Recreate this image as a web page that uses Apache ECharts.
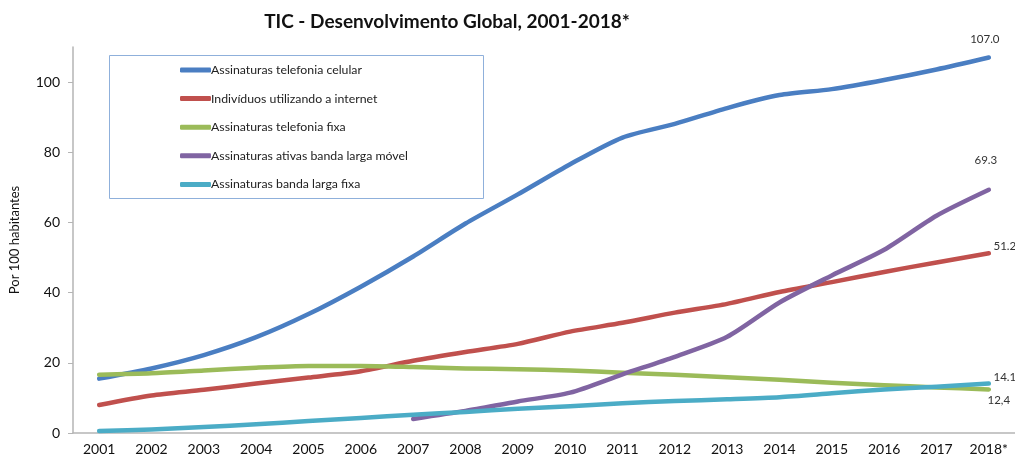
<!DOCTYPE html>
<html>
<head>
<meta charset="utf-8">
<script src="https://cdn.jsdelivr.net/npm/echarts@6/dist/echarts.min.js"></script>
<style>
  html, body { margin: 0; padding: 0; background: #fff; }
  #chart { width: 1015px; height: 457px; }
</style>
</head>
<body>
<div id="chart"></div>
<script>
// anos
const anos = ['2001', '2002', '2003', '2004', '2005', '2006', '2007', '2008', '2009',
    '2010', '2011', '2012', '2013', '2014', '2015', '2016', '2017', '2018*'];

// séries (por 100 habitantes)
const celular = [15.5, 18.4, 22.2, 27.3, 33.9, 41.7, 50.3, 59.7, 68.0, 76.6, 84.2, 88.1, 92.6, 96.3, 98.0, 100.6, 103.6, 107.0];
const internet = [8.0, 10.7, 12.3, 14.1, 15.8, 17.6, 20.6, 23.1, 25.4, 28.9, 31.4, 34.3, 36.8, 40.2, 43.0, 45.9, 48.6, 51.2];
const fixa = [16.6, 17.0, 17.8, 18.6, 19.1, 19.1, 18.8, 18.4, 18.2, 17.8, 17.2, 16.6, 15.9, 15.2, 14.3, 13.6, 13.0, 12.4];
const movel = [null, null, null, null, null, null, 4.0, 6.3, 9.0, 11.5, 16.7, 21.7, 27.4, 37.2, 44.9, 52.2, 61.9, 69.3];
const bandaFixa = [0.6, 1.0, 1.7, 2.5, 3.4, 4.3, 5.2, 6.0, 6.9, 7.6, 8.5, 9.1, 9.6, 10.2, 11.3, 12.4, 13.2, 14.1];

const nomes = ['Assinaturas telefonia celular', 'Indivíduos utilizando a internet',
    'Assinaturas telefonia fixa', 'Assinaturas ativas banda larga móvel', 'Assinaturas banda larga fixa'];
const cores = ['#4A7EC2', '#C0504D', '#9BBB59', '#8064A2', '#4BACC6'];

const yTicks = [0, 20, 40, 60, 80, 100];

// deslocamento do rótulo final de cada série, e separador decimal
const rotulos = [
    { offset: [-4, -24], decimal: '.' },
    { offset: [16, -13], decimal: '.' },
    { offset: [10, 5], decimal: ',' },
    { offset: [-3, -36], decimal: '.' },
    { offset: [16, -12], decimal: '.' }
];

const chart = echarts.init(document.getElementById('chart'));

chart.setOption({
    animation: false,
    textStyle: { fontFamily: 'Lato' },
    title: {
        text: 'TIC - Desenvolvimento Global, 2001-2018*',
        left: 442,
        top: 7,
        textAlign: 'center',
        textStyle: { fontFamily: 'Lato', fontWeight: 'bold', fontSize: 19, color: '#111' }
    },
    graphic: [{
        type: 'rect',
        shape: { x: 109.5, y: 55.5, width: 374, height: 143 },
        style: { fill: '#fff', stroke: '#8FB0DB', lineWidth: 1 },
        z: 1
    }],
    legend: {
        orient: 'vertical',
        left: 175,
        top: 59,
        icon: 'roundRect',
        itemWidth: 31,
        itemHeight: 5,
        itemGap: 16.6,
        z: 5,
        textStyle: { fontFamily: 'Lato', fontSize: 12.3, color: '#222', padding: [0, 0, 0, -5] },
        data: nomes
    },
    grid: { left: 68, top: 47, width: 950, height: 386 },
    xAxis: {
        type: 'category',
        data: anos,
        axisLine: { lineStyle: { color: '#b5b5b5', width: 1.5 } },
        axisTick: { length: 5, lineStyle: { color: '#b5b5b5' } },
        axisLabel: { fontFamily: 'Lato', fontSize: 14, color: '#111', margin: 9 }
    },
    yAxis: {
        type: 'value',
        min: 0,
        max: 110,
        interval: 20,
        name: 'Por 100 habitantes',
        nameLocation: 'middle',
        nameGap: 52,
        nameTextStyle: { fontFamily: 'Lato', fontSize: 13, color: '#111' },
        splitLine: { show: false },
        axisLine: { show: true, lineStyle: { color: '#b5b5b5', width: 1.5 } },
        axisTick: { show: true, length: 5, lineStyle: { color: '#b5b5b5' } },
        axisLabel: {
            fontFamily: 'Lato', fontSize: 14, color: '#111', margin: 13, showMaxLabel: false,
            formatter: function (v) { return yTicks.indexOf(v) >= 0 ? String(v) : ''; }
        }
    },
    series: [celular, internet, fixa, movel, bandaFixa].map(function (d, i) {
        return {
            name: nomes[i],
            type: 'line',
            data: d,
            smooth: 0.25,
            symbol: 'none',
            color: cores[i],
            lineStyle: { width: 4.5, cap: 'round', join: 'round' },
            endLabel: {
                show: true,
                distance: 0,
                align: 'center',
                verticalAlign: 'top',
                offset: rotulos[i].offset,
                fontFamily: 'Lato',
                fontSize: 11.5,
                color: '#333',
                formatter: function (p) {
                    return Number(p.value).toFixed(1).replace('.', rotulos[i].decimal);
                }
            },
            z: 3
        };
    })
});
</script>
</body>
</html>
